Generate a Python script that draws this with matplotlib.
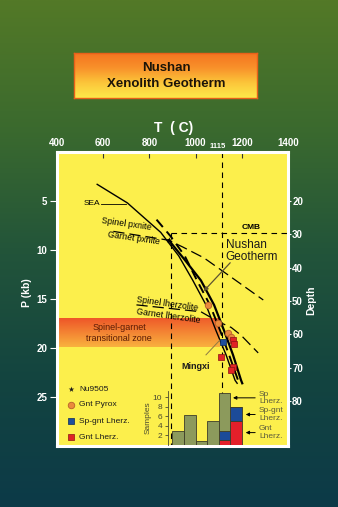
import numpy as np
import matplotlib
matplotlib.use('Agg')
import matplotlib.pyplot as plt
from matplotlib.colors import LinearSegmentedColormap, to_rgb

plt.rcParams['font.family'] = ['Liberation Sans', 'DejaVu Sans']

# ---------------- data ----------------
t_ticks = [400, 600, 800, 1000, 1200, 1400]
p_ticks = [5, 10, 15, 20, 25]
depth_ticks = [20, 30, 40, 50, 60, 70, 80]

sea_T = [574, 705, 849, 927, 988, 1045, 1088, 1132, 1171, 1180]
sea_P = [3.3, 5.2, 8.2, 10.6, 13.1, 15.6, 18.2, 20.7, 23.3, 23.6]

dash_T = [831, 892, 953, 1006, 1062, 1106, 1145, 1184, 1189]
dash_P = [6.9, 8.6, 10.6, 13.1, 15.6, 18.2, 20.7, 23.3, 23.6]

nushan_T = [884, 953, 1023, 1080, 1123, 1162, 1197, 1202]
nushan_P = [9.0, 11.0, 13.1, 15.6, 18.2, 20.7, 23.3, 23.6]

pyx_T = [644, 883, 945, 1036, 1162, 1293]
pyx_P = [8.1, 9.0, 9.7, 10.8, 12.9, 15.1]

lhz_T = [744, 1023, 1097, 1154, 1197, 1271]
lhz_P = [15.6, 16.3, 17.3, 17.9, 18.7, 20.5]

cmb_T = 895
cmb_P = 8.3
t_1115 = 1115

zone_P = [17.0, 19.9]
zone_T = [400, 1105]

star_T = [883]
star_P = [9.0]
gpx_T = [1053, 1097, 1140, 1152]
gpx_P = [15.6, 17.4, 18.5, 18.9]
spg_T = [1119]
spg_P = [19.4]
gnt_T = [1162, 1167, 1110, 1162, 1154]
gnt_P = [19.2, 19.6, 20.9, 21.9, 22.2]

hist_T = [900, 950, 1000, 1050, 1100, 1150]
hist_sp = [3, 6.2, 0.9, 5, 8, 0]
hist_spgnt = [0, 0, 0, 0, 2, 3]
hist_gnt = [0, 0, 0, 0, 1, 5]
hist_ticks = [2, 4, 6, 8, 10]

# ---------------- figure ----------------
fig = plt.figure(figsize=(3.38, 5.07), dpi=100)

bg = fig.add_axes([0, 0, 1, 1])
bg.axis('off')
cmap_bg = LinearSegmentedColormap.from_list(
    'bg', ['#0c3a48', '#134440', '#22543a', '#3b6a2e', '#537927'])
bg.imshow(np.linspace(0, 1, 256).reshape(-1, 1), aspect='auto', cmap=cmap_bg,
          origin='lower', extent=[0, 1, 0, 1])
bg.set_xlim(0, 1); bg.set_ylim(0, 1)

# title box
tb = fig.add_axes([0.219, 0.8067, 0.541, 0.0888])
cmap_t = LinearSegmentedColormap.from_list('tt', ['#fde94a', '#fcc53a', '#f8902a', '#f47420'])
tb.imshow(np.linspace(0, 1, 64).reshape(-1, 1), aspect='auto', cmap=cmap_t,
          origin='lower', extent=[0, 1, 0, 1])
tb.set_xticks([]); tb.set_yticks([])
for s in tb.spines.values():
    s.set_color('#e8601a'); s.set_linewidth(1.0)
fig.text(0.491, 0.865, 'Nushan', ha='center', va='center', fontsize=9.5,
         fontweight='bold', color='#1c1408')
fig.text(0.491, 0.834, 'Xenolith Geotherm', ha='center', va='center', fontsize=9.5,
         fontweight='bold', color='#1c1408')

# main axes
ax = fig.add_axes([0.1686, 0.1203, 0.6834, 0.5799])
ax.set_facecolor('#fcef4c')
for s in ax.spines.values():
    s.set_color('white'); s.set_linewidth(2.2)

# transitional zone gradient
top = np.array(to_rgb('#ee5528'))
bot = np.array(to_rgb('#f9b23e'))
rows = np.linspace(0, 1, 60).reshape(-1, 1, 1)
cols = np.linspace(0, 1, 100).reshape(1, -1, 1)
img = top * (1 - rows) + bot * rows
img = img * (1 - 0.12 * cols) + np.array(to_rgb('#f7a040')) * 0.12 * cols
ax.imshow(img, extent=[zone_T[0], zone_T[1], zone_P[1], zone_P[0]], origin='upper',
          aspect='auto', zorder=1)
ax.text(670, 18.45, 'Spinel-garnet\ntransitional zone', ha='center', va='center',
        fontsize=6.5, color='#5a1a05', zorder=3, linespacing=1.2)

# reference dashed lines
ax.plot([t_1115, t_1115], [0, 30], color='black', lw=0.8, ls=(0, (5, 4)), zorder=2)
ax.plot([cmb_T, 1400], [cmb_P, cmb_P], color='black', lw=0.8, ls=(0, (5, 4)), zorder=2)
ax.plot([cmb_T, cmb_T], [cmb_P, 30], color='black', lw=0.8, ls=(0, (5, 4)), zorder=2)
ax.text(1240, 7.7, 'CMB', ha='center', va='center', fontsize=6, fontweight='bold',
        color='black', zorder=4)

# phase boundaries
ax.plot(pyx_T, pyx_P, color='black', lw=0.9, ls=(0, (9, 4)), zorder=3)
ax.plot(lhz_T, lhz_P, color='black', lw=0.9, ls=(0, (9, 4)), zorder=3)
ax.text(592, 7.35, 'Spinel pxnite', fontsize=6.3, rotation=-8, ha='left', va='center', zorder=4)
ax.text(618, 8.75, 'Garnet pxnite', fontsize=6.3, rotation=-8, ha='left', va='center', zorder=4)
ax.text(742, 15.5, 'Spinel lherzolite', fontsize=6.3, rotation=-8, ha='left', va='center', zorder=4)
ax.text(742, 16.7, 'Garnet lherzolite', fontsize=6.3, rotation=-8, ha='left', va='center', zorder=4)

# geotherms
ax.plot(sea_T, sea_P, color='black', lw=1.0, zorder=4)
ax.plot(dash_T, dash_P, color='black', lw=1.4, ls=(0, (5, 3)), zorder=4)
ax.plot(nushan_T, nushan_P, color='black', lw=1.6, zorder=4)
ax.plot([592, 700], [5.3, 5.3], color='black', lw=0.6, zorder=4)
ax.text(589, 5.3, 'SEA', ha='right', va='center', fontsize=6, zorder=4)

ax.text(1130, 10.1, 'Nushan\nGeotherm', ha='left', va='center', fontsize=8.5,
        color='#1a1a1a', zorder=5, linespacing=1.0)
ax.annotate('', xy=(1035, 14.2), xytext=(1150, 11.3),
            arrowprops=dict(arrowstyle='-|>', color='#5e5430', lw=0.9,
                            mutation_scale=6, shrinkA=0, shrinkB=0), zorder=5)
ax.text(1000, 21.9, 'Mingxi', ha='center', va='center', fontsize=6.5,
        fontweight='bold', color='#1a1a1a', zorder=5)
ax.plot([1045, 1105], [20.7, 19.2], color='#8c7a44', lw=0.7, zorder=5)

# data points
ax.scatter(gpx_T, gpx_P, s=22, marker='o', color='#ea8a3c', edgecolor='#b8602a',
           linewidth=0.6, zorder=6)
ax.scatter(gnt_T, gnt_P, s=20, marker='s', color='#e02424', edgecolor='#8c1414',
           linewidth=0.5, zorder=6)
ax.scatter(spg_T, spg_P, s=20, marker='s', color='#1d4f9c', edgecolor='#0c2a5a',
           linewidth=0.5, zorder=6)
ax.scatter(star_T, star_P, s=22, marker='*', color='black', linewidth=0, zorder=7)

# legend (inside)
leg_T = 460
ax.scatter([leg_T], [24.2], s=18, marker='*', color='#1a1a1a', linewidth=0, zorder=6)
ax.scatter([leg_T], [25.8], s=22, marker='o', color='#ea8a3c', edgecolor='#b8602a',
           linewidth=0.6, zorder=6)
ax.scatter([leg_T], [27.45], s=20, marker='s', color='#1d4f9c', edgecolor='#0c2a5a',
           linewidth=0.5, zorder=6)
ax.scatter([leg_T], [29.1], s=20, marker='s', color='#e02424', edgecolor='#8c1414',
           linewidth=0.5, zorder=6)
for lab, p in [('Nu9505', 24.2), ('Gnt Pyrox', 25.8), ('Sp-gnt Lherz.', 27.45),
               ('Gnt Lherz.', 29.1)]:
    ax.text(495, p, lab, ha='left', va='center', fontsize=6, color='#1a1a1a', zorder=6)

# limits (after imshow)
ax.set_xlim(400, 1400)
ax.set_ylim(30, 0)

# axes ticks
ax.xaxis.tick_top()
ax.set_xticks(t_ticks)
ax.set_xticklabels([str(t) for t in t_ticks])
ax.tick_params(axis='x', direction='in', length=4, width=0.8, color='#333333',
               labelsize=7, labelcolor='white', pad=3)
for lbl in ax.get_xticklabels():
    lbl.set_fontweight('bold')
fig.text(0.645, 0.711, '1115', ha='center', va='center', fontsize=5.5,
         fontweight='bold', color='white')
ax.set_yticks(p_ticks)
ax.set_yticklabels([str(p) for p in p_ticks])
ax.tick_params(axis='y', direction='out', length=5, width=0.8, color='white',
               labelsize=7, labelcolor='white', pad=2)
for lbl in ax.get_yticklabels():
    lbl.set_fontweight('bold')

sec = ax.secondary_yaxis('right', functions=(lambda p: (p + 1.8) / 0.34,
                                             lambda d: 0.34 * d - 1.8))
sec.set_yticks(depth_ticks)
sec.set_yticklabels([str(d) for d in depth_ticks])
sec.tick_params(direction='out', length=2, width=0.8, color='white', labelsize=7,
                labelcolor='white', pad=1)
for lbl in sec.get_yticklabels():
    lbl.set_fontweight('bold')
sec.spines['right'].set_visible(False)

fig.text(0.515, 0.748, 'T  ( C)', ha='center', va='center', fontsize=10,
         fontweight='bold', color='white')
fig.text(0.08, 0.422, 'P (kb)', ha='center', va='center', fontsize=7.5,
         fontweight='bold', color='white', rotation=90)
fig.text(0.921, 0.408, 'Depth', ha='center', va='center', fontsize=7.5,
         fontweight='bold', color='white', rotation=90)

# histogram inset
hx = ax.inset_axes([0.48, 0.0035, 0.34, 0.183])
hx.patch.set_alpha(0)
w = 50
hx.bar(hist_T, hist_gnt, width=w, align='edge', color='#e4202a', edgecolor='#3c3c28',
       linewidth=0.6)
hx.bar(hist_T, hist_spgnt, width=w, bottom=hist_gnt, align='edge', color='#1c4b98',
       edgecolor='#3c3c28', linewidth=0.6)
base2 = [a + b for a, b in zip(hist_gnt, hist_spgnt)]
hx.bar(hist_T, hist_sp, width=w, bottom=base2, align='edge', color='#8c9a5c',
       edgecolor='#3c3c28', linewidth=0.6)
hx.set_xlim(880, 1220)
hx.set_ylim(0, 11.3)
for k in ['top', 'right', 'bottom']:
    hx.spines[k].set_visible(False)
hx.spines['left'].set_color('#4a4a30')
hx.spines['left'].set_linewidth(0.6)
hx.set_xticks([])
hx.set_yticks(hist_ticks)
hx.tick_params(axis='y', length=2.5, width=0.6, color='#4a4a30', labelsize=6,
               labelcolor='#4a4a30', pad=1.5)
hx.set_ylabel('Samples', fontsize=6, color='#4a4a30', labelpad=1)

# labels + arrows for histogram
for lab, yv, xt in [('Sp\nLherz.', 9.9, 1110), ('Sp-gnt\nLherz.', 6.4, 1165),
                    ('Gnt\nLherz.', 2.6, 1165)]:
    hx.annotate('', xy=(xt + 40, yv), xytext=(1270, yv),
                arrowprops=dict(arrowstyle='-|>', color='black', lw=0.7,
                                mutation_scale=5), annotation_clip=False)
    hx.text(1275, yv, lab, ha='left', va='center', fontsize=6, color='#5c5c3c',
            linespacing=1.05, clip_on=False)

fig.savefig('out.png', dpi=100)
